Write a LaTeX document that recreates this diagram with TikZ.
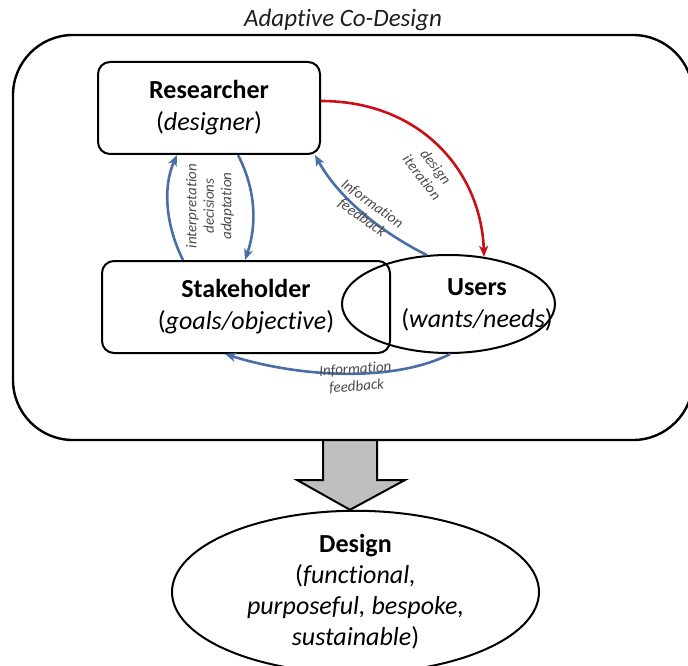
\documentclass[tikz,border=0pt]{standalone}
\usepackage{fontspec}
\setmainfont{Carlito}[Ligatures=NoCommon]
\usetikzlibrary{arrows.meta,calc,shapes.geometric}
\definecolor{fbblue}{RGB}{74,110,165}
\definecolor{itred}{RGB}{200,16,22}
\definecolor{lblgray}{RGB}{75,75,75}
\definecolor{arrgray}{RGB}{191,191,191}
\begin{document}
\begin{tikzpicture}[x=1pt,y=-1pt,
  outerbox/.style={draw, line width=2.4pt, rounded corners=60pt, minimum width=680pt, minimum height=405pt, inner sep=0pt},
  box/.style={draw, line width=2pt, rounded corners=12pt, align=center, inner sep=0pt, font=\fontsize{26}{32}\selectfont},
  oval/.style={ellipse, draw, line width=2pt, inner sep=0pt, align=center, font=\fontsize{26}{31}\selectfont},
  flow/.style={line width=2.6pt, -{Stealth[length=11pt,width=9pt,inset=3pt]}},
  lbl/.style={font=\fontsize{15}{17.5}\selectfont\itshape, text=lblgray, align=center, inner sep=0pt},
  bigarrow/.style={draw, line width=2pt, fill=arrgray, line join=miter}
]
\useasboundingbox (0,0) rectangle (688,666);

\node[outerbox] (outer) at (353,237.5) {};
\node[font=\fontsize{25}{30}\selectfont\itshape, text={rgb,255:red,30;green,30;blue,30}] (title) at (343,20) {Adaptive Co-Design};

\node[box, minimum width=222pt, minimum height=92pt] (res) at (209,108) {\textbf{Researcher}\\(\textit{designer})};
\node[box, minimum width=288pt, minimum height=92pt] (stake) at (246,307) {\textbf{Stakeholder}\\(\textit{goals/objective})};
\node[oval, minimum width=213pt, minimum height=98pt] (users) at (448.5,304) {};
\node[align=center, inner sep=0pt, font=\fontsize{26}{32}\selectfont] (userstxt) at (477,305) {\textbf{Users}\\(\textit{wants/needs})};

\node[oval, minimum width=367pt, minimum height=141pt] (design) at (355.5,592) {\textbf{Design}\\(\textit{functional,}\\\textit{purposeful, bespoke,}\\\textit{sustainable})};

% big arrow
\draw[bigarrow] (323,440) -- (323,480) -- (297,480) -- (design.north -| 350,0) -- (405,480) -- (377,480) -- (377,440) -- cycle;
\draw[line width=2.4pt] (300,440) -- (400,440);

% researcher <-> stakeholder
\draw[flow, fbblue] ([xshift=-63pt]stake.north) .. controls +(-18,-36) and +(-14,31) .. ([xshift=-32pt]res.south);
\draw[flow, fbblue] ([xshift=29pt]res.south) .. controls +(18,35) and +(12,-35) .. ([xshift=-1pt]stake.north);
\node[lbl, rotate=90] (idalbl) at (210,206) {interpretation\\decisions\\adaptation};

% users -> researcher feedback
\draw[flow, fbblue] (users.114) .. controls +(-50,-25) and +(22,40) .. ([xshift=-6pt]res.south east);
\node[lbl, rotate=-36] (fb1) at (367,211) {Information\\feedback};

% design iteration
\draw[flow, itred] ([yshift=7pt]res.east) .. controls +(100,0) and +(-3,-85) .. (users.53);
\node[lbl, rotate=-52] (dilbl) at (429,172) {design\\iteration};

% users -> stakeholder feedback
\draw[flow, fbblue] (users.-88) .. controls +(-60,30) and +(70,22) .. ([xshift=-21pt]stake.south);
\node[lbl, rotate=4] (fb2) at (356,378) {Information\\feedback};
\end{tikzpicture}
\end{document}
